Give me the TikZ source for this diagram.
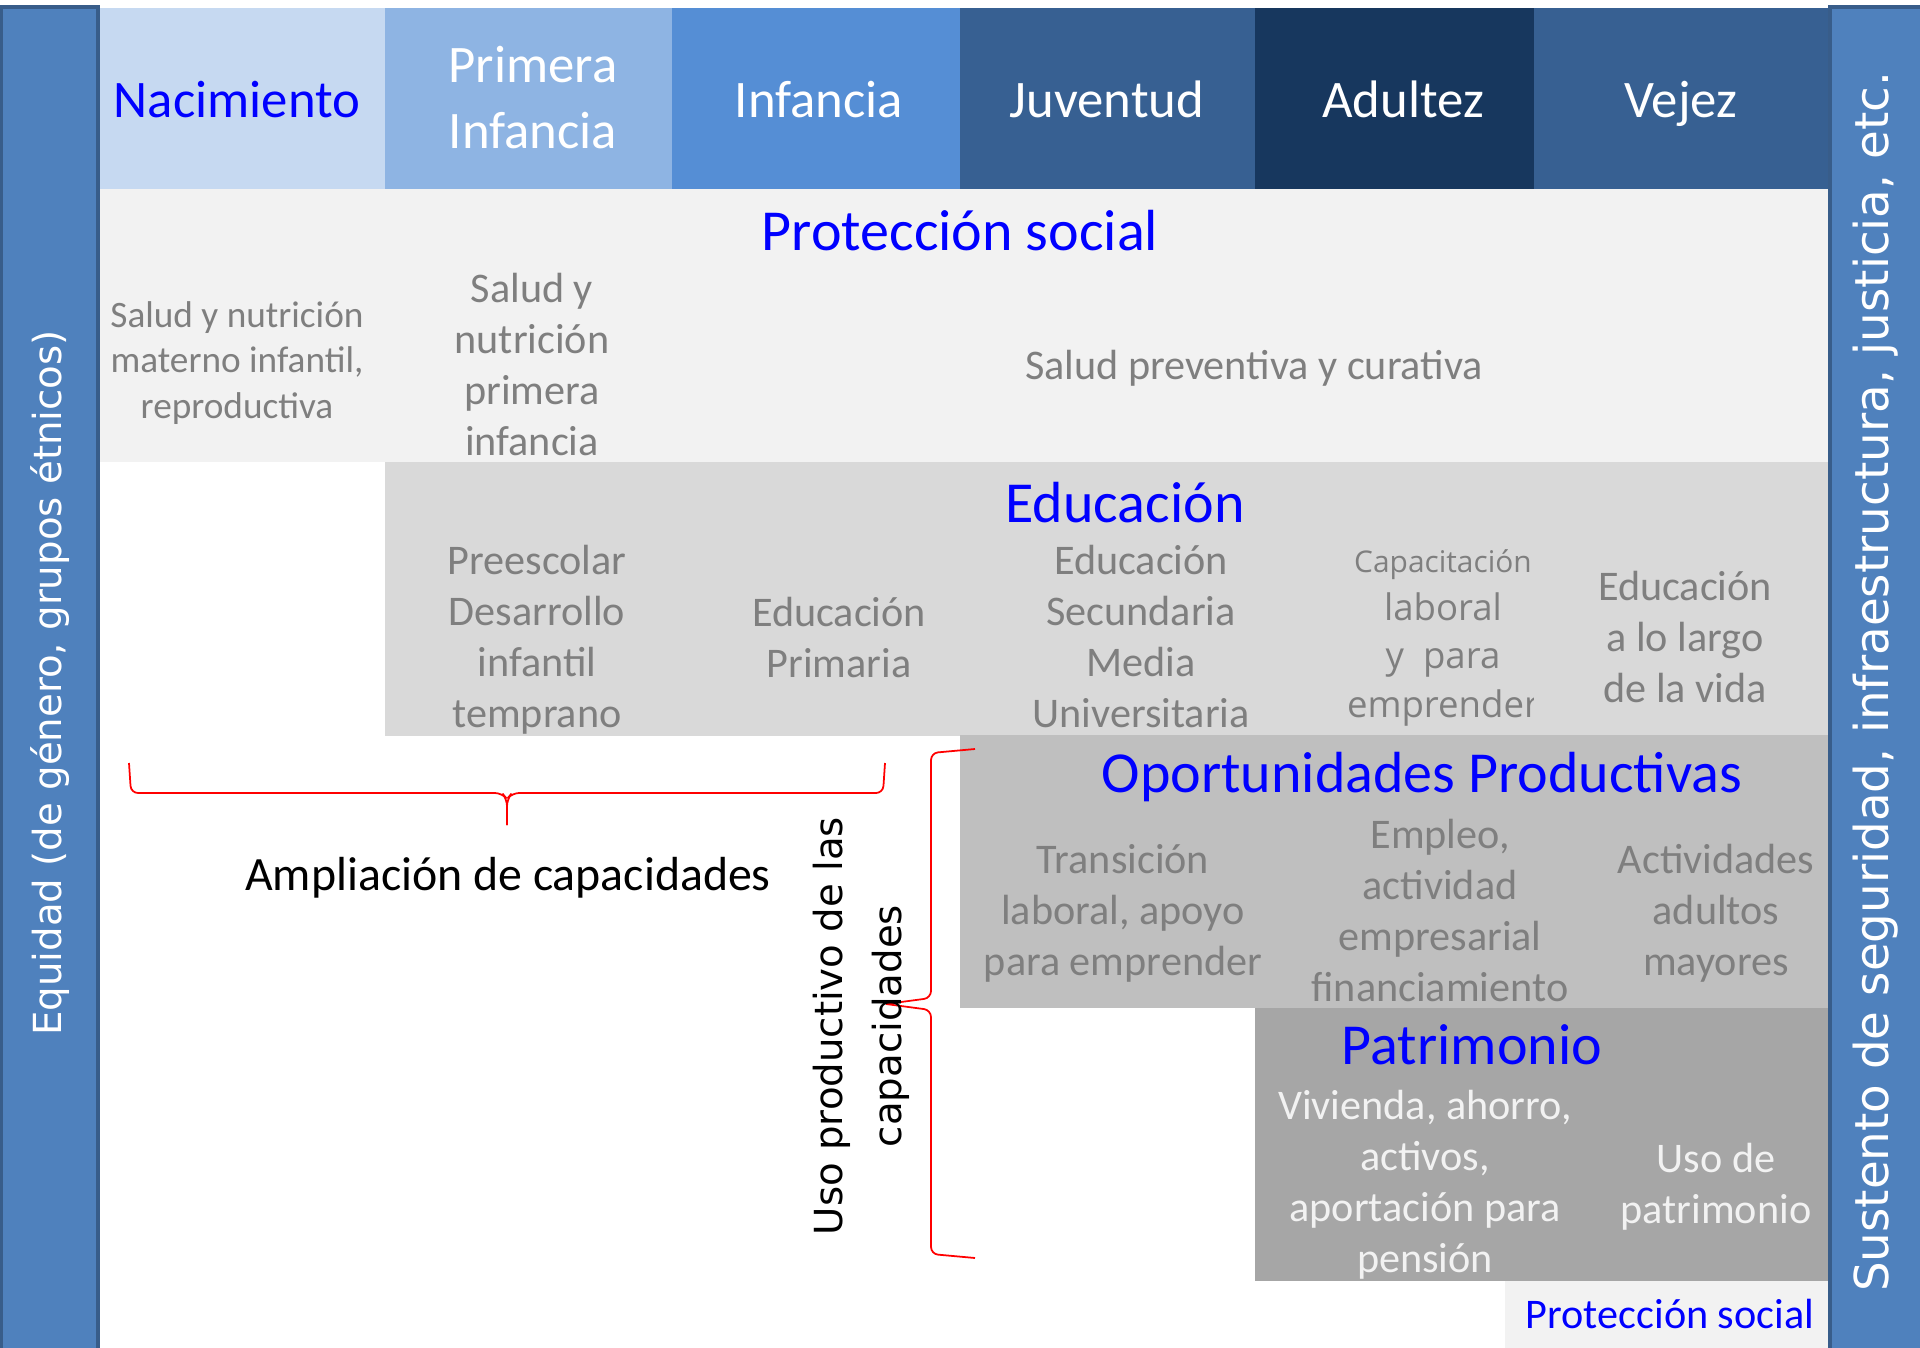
\documentclass[tikz,border=0pt]{standalone}
\usepackage{fontspec}
\setmainfont{Carlito}
\newfontfamily\anchafont{DejaVu Sans}
\newfontfamily\opensansfont{Open Sans}

\definecolor{nacim}{HTML}{C6D9F1}
\definecolor{primera}{HTML}{8EB4E3}
\definecolor{infan}{HTML}{558ED5}
\definecolor{juven}{HTML}{376092}
\definecolor{adult}{HTML}{17375E}
\definecolor{barfill}{HTML}{4F81BD}
\definecolor{barline}{HTML}{385D8A}
\definecolor{prot}{HTML}{F2F2F2}
\definecolor{educ}{HTML}{D9D9D9}
\definecolor{oport}{HTML}{BFBFBF}
\definecolor{patri}{HTML}{A6A6A6}
\definecolor{txtgray}{HTML}{7F7F7F}

\tikzset{
  etapa/.style={anchor=base, align=center, inner sep=0pt, font=\fontsize{15}{18.5}\selectfont},
  titulo/.style={anchor=base, inner sep=0pt, text=blue, font=\fontsize{16.5}{20}\selectfont},
  celda/.style={anchor=base, align=center, inner sep=0pt, text=txtgray, font=\fontsize{12}{14.5}\selectfont},
  lado/.style={rotate=90, inner sep=0pt, text=white, font=\anchafont\fontsize{11}{13}\selectfont},
  lateral/.style={fill=barfill, draw=barline, line width=1.1pt},
  llave/.style={draw=red, line width=0.5pt, rounded corners=2pt}
}

\begin{document}
\begin{tikzpicture}[x=0.01cm, y=-0.01cm]
\useasboundingbox (0,0) rectangle (1920,1348);

% etapas de la vida
\foreach \xa/\xb/\xt/\yt/\col/\tc/\nm/\lab in {
  100/385/237/117/nacim/blue/nac/Nacimiento,
  385/672/533/148/primera/white/pri/{Primera\\Infancia},
  672/960/819/117/infan/white/inf/Infancia,
  960/1255/1107/117/juven/white/juv/Juventud,
  1255/1534/1403/117/adult/white/adu/Adultez,
  1534/1828/1681/117/juven/white/vej/Vejez}
{
  \fill[\col] (\xa,8) rectangle (\xb,189);
  \node[etapa, text=\tc] (\nm) at (\xt,\yt) {\lab};
}

% franjas
\fill[prot] (100,189) rectangle (1828,462);
\fill[educ] (385,462) rectangle (1828,736);
\fill[oport] (960,735) rectangle (1828,1008);
\fill[patri] (1255,1008) rectangle (1828,1281);
\fill[prot] (1505,1281) rectangle (1828,1348);

% Proteccion social
\node[titulo] (protsoc) at (960,250) {Protección social};
\node[celda, font=\fontsize{10.6}{12.8}\selectfont] (materno) at (237,418)
  {Salud y nutrición\\materno infantil,\\reproductiva};
\node[celda] (nutri) at (532,455) {Salud y\\nutrición\\primera\\infancia};
\node[celda] (preven) at (1254,379) {Salud preventiva y curativa};

% Educacion
\node[titulo] (educa) at (1125,522) {Educación};
\node[celda] (preesc) at (537,727) {Preescolar\\Desarrollo\\infantil\\temprano};
\node[celda] (prima) at (839,677) {Educación\\Primaria};
\node[celda] (secun) at (1141,727) {Educación\\Secundaria\\Media\\Universitaria};
\begin{scope}
  \clip (1255,462) rectangle (1533,736);
  \node[celda, font=\opensansfont\fontsize{10.4}{13.7}\selectfont] (capac) at (1443,717)
    {{\fontsize{8.5}{13.7}\selectfont Capacitación}\\laboral\\y\ \ para\\emprender};
\end{scope}
\node[celda] (largo) at (1685,702) {Educación\\a lo largo\\de la vida};

% Oportunidades productivas
\node[titulo] (oportu) at (1422,792) {Oportunidades Productivas};
\node[celda] (transi) at (1123,975) {Transición\\laboral, apoyo\\para emprender};
\node[celda] (empleo) at (1440,1001) {Empleo,\\actividad\\empresarial\\financiamiento};
\node[celda] (activ) at (1716,975) {Actividades\\adultos\\mayores};

% Patrimonio
\node[titulo] (patrim) at (1472,1064) {Patrimonio};
\node[celda, text=prot] (vivien) at (1425,1272) {Vivienda, ahorro,\\activos,\\aportación para\\pensión};
\node[celda, text=prot] (usopat) at (1716,1223) {Uso de\\patrimonio};
\node[titulo, font=\fontsize{12}{14.5}\selectfont] (protbaja) at (1670,1328) {Protección social};

% barras laterales
\draw[lateral] (1.5,7) rectangle (98,1360);
\draw[lateral] (1830,7) rectangle (1930,1360);
\node[lado] (equidad) at (50,683) {Equidad (de género, grupos étnicos)};
\node[lado, font=\anchafont\fontsize{13.3}{15}\selectfont] (sustento) at (1876,682)
  {Sustento de seguridad, infraestructura, justicia, etc.};

% llaves
\coordinate (ampliaA) at (129,763);
\coordinate (ampliaB) at (885,763);
\coordinate (ampliaP) at (507,825);
\coordinate (usoA) at (975,749);
\coordinate (usoB) at (975,1258);
\coordinate (usoP) at (886,1004);
\draw[llave] (ampliaA) -- (131,793) -- (502,793) -- (ampliaP |- 0,799) -- (ampliaP);
\draw[llave] (ampliaB) -- (883,793) -- (512,793) -- (ampliaP |- 0,799) -- (ampliaP);
\draw[llave] (usoA) -- (931,753) -- (931,998) -- (usoP);
\draw[llave] (usoB) -- (931,1254) -- (931,1010) -- (usoP);
\node[anchor=base, inner sep=0pt, font=\fontsize{13.6}{16}\selectfont] (amplia) at (508,890)
  {Ampliación de capacidades};
\node[lado, text=black, align=center, font=\anchafont\fontsize{11}{16.8}\selectfont] (usoprod) at (861,1026)
  {Uso productivo de las\\capacidades};
\end{tikzpicture}
\end{document}
